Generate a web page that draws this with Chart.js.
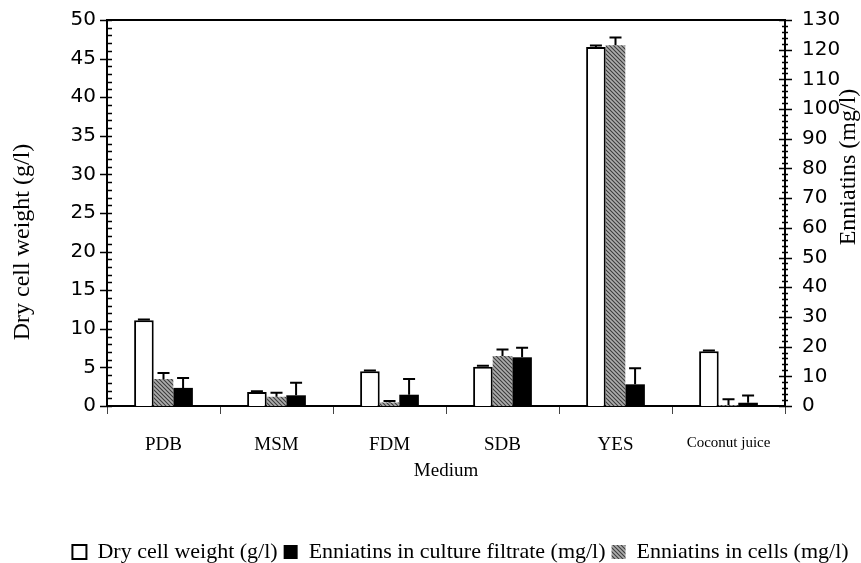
<!DOCTYPE html>
<html>
<head>
<meta charset="utf-8">
<script src="https://cdn.jsdelivr.net/npm/chart.js@4/dist/chart.umd.min.js"></script>
<style>
	html, body { margin: 0; padding: 0; background: #fff; }
	.chart-container { width: 861px; height: 563px; position: relative; }
</style>
</head>
<body>
<div class="chart-container"><canvas id="chart"></canvas></div>
<script>
var categories = ['PDB', 'MSM', 'FDM', 'SDB', 'YES', 'Coconut juice'];

// g/l, left axis
var dryWeight = [11.1, 1.8, 4.5, 5.1, 46.5, 7.1];
var dryWeightErr = [0.1, 0.1, 0.1, 0.1, 0.2, 0.1];

// mg/l, right axis
var enniatinsCells = [9.1, 3.1, 1.2, 16.8, 121.5, 0.3];
var enniatinsCellsErr = [2.0, 1.4, 0.5, 2.2, 2.6, 2.0];

var enniatinsFiltrate = [6.1, 3.6, 3.8, 16.4, 7.3, 1.1];
var enniatinsFiltrateErr = [3.3, 4.2, 5.3, 3.2, 5.4, 2.4];

var legendOrder = [0, 2, 1];

function makeHatch() {
	var c = document.createElement('canvas');
	c.width = 4;
	c.height = 4;
	var g = c.getContext('2d');
	g.fillStyle = '#adadad';
	g.fillRect(0, 0, 4, 4);
	g.strokeStyle = '#3c3c3c';
	g.lineWidth = 1.1;
	g.beginPath();
	g.moveTo(-1, -1); g.lineTo(5, 5);
	g.moveTo(-3, 1); g.lineTo(1, 5);
	g.moveTo(1, -3); g.lineTo(5, 1);
	g.stroke();
	return g.createPattern(c, 'repeat');
}

var serif = 'Liberation Serif';
var sans = 'DejaVu Sans';

function noPad(s) {
	s.paddingTop = 0;
	s.paddingBottom = 0;
}

// error bars, frame top line, minor ticks and axis titles
var extras = {
	id: 'extras',
	afterDatasetsDraw: function (chart) {
		var ctx = chart.ctx;
		var errs = [dryWeightErr, enniatinsCellsErr, enniatinsFiltrateErr];
		ctx.save();
		ctx.strokeStyle = '#000';
		ctx.lineWidth = 2;
		for (var d = 0; d < chart.data.datasets.length; d++) {
			var meta = chart.getDatasetMeta(d);
			var scale = chart.scales[meta.yAxisID];
			var vals = chart.data.datasets[d].data;
			for (var i = 0; i < meta.data.length; i++) {
				var bar = meta.data[i];
				var yTop = scale.getPixelForValue(vals[i] + errs[d][i]);
				ctx.beginPath();
				ctx.moveTo(bar.x, bar.y);
				ctx.lineTo(bar.x, yTop);
				ctx.moveTo(bar.x - 6, yTop);
				ctx.lineTo(bar.x + 6, yTop);
				ctx.stroke();
			}
		}
		ctx.restore();
	},
	afterDraw: function (chart) {
		var ctx = chart.ctx;
		var area = chart.chartArea;
		var y = chart.scales.y;
		var y1 = chart.scales.y1;
		ctx.save();
		ctx.strokeStyle = '#000';
		ctx.lineWidth = 2;
		ctx.beginPath();
		ctx.moveTo(area.left, area.top);
		ctx.lineTo(area.right, area.top);
		ctx.stroke();

		ctx.lineWidth = 1.5;
		ctx.beginPath();
		for (var v = 0; v <= 50; v++) {
			var p = Math.round(y.getPixelForValue(v)) + 0.5;
			if (v % 5 == 0) {
				ctx.moveTo(area.left - 7, p);
			} else {
				ctx.moveTo(area.left, p);
			}
			ctx.lineTo(area.left + 5, p);
		}
		for (var w = 0; w <= 130; w += 2) {
			var q = Math.round(y1.getPixelForValue(w)) + 0.5;
			if (w % 10 == 0) {
				ctx.moveTo(area.right - 6, q);
				ctx.lineTo(area.right + 7, q);
			} else {
				ctx.moveTo(area.right - 3, q);
				ctx.lineTo(area.right + 3, q);
			}
		}
		ctx.stroke();

		ctx.fillStyle = '#000';
		ctx.font = '24px "' + serif + '"';
		ctx.textAlign = 'center';
		ctx.textBaseline = 'middle';
		ctx.translate(23, 242);
		ctx.rotate(-Math.PI / 2);
		ctx.fillText('Dry cell weight (g/l)', 0, 0);
		ctx.rotate(Math.PI / 2);
		ctx.translate(-23, -242);
		ctx.translate(849, 167);
		ctx.rotate(-Math.PI / 2);
		ctx.fillText('Enniatins (mg/l)', 0, 0);
		ctx.restore();
	}
};

var ctx = document.getElementById('chart').getContext('2d');
var hatch = makeHatch();

var myChart = new Chart(ctx, {
	type: 'bar',
	data: {
		labels: categories,
		datasets: [{
			label: 'Dry cell weight (g/l)',
			data: dryWeight,
			backgroundColor: '#fff',
			borderColor: '#000',
			borderWidth: 2,
			yAxisID: 'y'
		}, {
			label: 'Enniatins in cells (mg/l)',
			data: enniatinsCells,
			backgroundColor: hatch,
			borderColor: '#777',
			borderWidth: 0,
			yAxisID: 'y1'
		}, {
			label: 'Enniatins in culture filtrate (mg/l)',
			data: enniatinsFiltrate,
			backgroundColor: '#000',
			borderColor: '#000',
			borderWidth: 0,
			yAxisID: 'y1'
		}]
	},
	options: {
		responsive: true,
		maintainAspectRatio: false,
		animation: false,
		layout: { padding: { top: 20, left: 60, right: 0, bottom: -10 } },
		datasets: { bar: { categoryPercentage: 0.52, barPercentage: 1.0 } },
		plugins: {
			tooltip: { enabled: false },
			legend: {
				display: true,
				position: 'bottom',
				labels: {
					color: '#000',
					font: { family: serif, size: 22 },
					boxWidth: 14,
					boxHeight: 14,
					padding: 6,
					sort: function (a, b) {
						return legendOrder.indexOf(a.datasetIndex) - legendOrder.indexOf(b.datasetIndex);
					}
				}
			}
		},
		scales: {
			x: {
				grid: { display: true, drawOnChartArea: false, drawTicks: true, tickLength: 8, color: '#444', lineWidth: 1 },
				border: { display: true, color: '#000', width: 2 },
				ticks: {
					color: '#000',
					padding: 20,
					maxRotation: 0,
					autoSkip: false,
					font: function (c) {
						return { family: serif, size: c.index == 5 ? 15 : 19 };
					}
				},
				title: {
					display: true,
					text: 'Medium',
					color: '#000',
					font: { family: serif, size: 19, lineHeight: 1.2 },
					padding: { top: 0, bottom: 53 }
				},
				afterFit: function (s) { s.height = 129; }
			},
			y: {
				position: 'left',
				min: 0,
				max: 50,
				grid: { display: false, drawTicks: false },
				border: { display: true, color: '#000', width: 2 },
				ticks: { stepSize: 5, color: '#000', padding: 11, font: { family: sans, size: 20 } },
				afterFit: function (s) { s.width = 47; noPad(s); }
			},
			y1: {
				position: 'right',
				min: 0,
				max: 130,
				grid: { display: false, drawTicks: false },
				border: { display: true, color: '#000', width: 2 },
				ticks: { stepSize: 10, color: '#000', padding: 17, font: { family: sans, size: 20 } },
				afterFit: function (s) { s.width = 76; noPad(s); }
			}
		}
	},
	plugins: [extras]
});
</script>
</body>
</html>
